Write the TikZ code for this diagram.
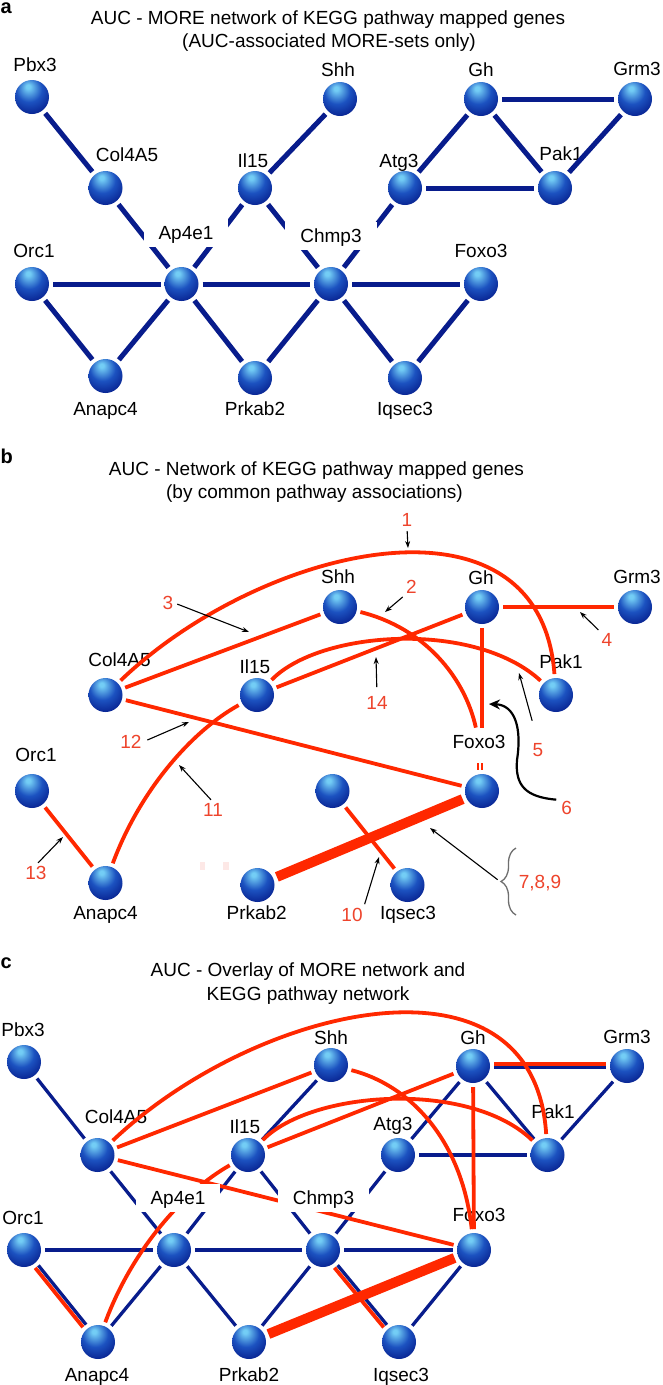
\documentclass[tikz,border=0pt]{standalone}
\usepackage{fontspec}
\setmainfont{Liberation Sans}
\usetikzlibrary{arrows.meta,decorations.pathreplacing}
\definecolor{bhl}{RGB}{115,205,245}
\definecolor{bmid}{RGB}{28,82,192}
\definecolor{bdk}{RGB}{6,30,140}
\definecolor{bdd}{RGB}{0,18,112}
\definecolor{edgeblue}{RGB}{8,28,140}
\definecolor{edgered}{RGB}{255,40,0}
\definecolor{numred}{RGB}{238,68,44}
\definecolor{bracegray}{RGB}{110,110,110}
\definecolor{faintpink}{RGB}{253,232,230}
\pgfdeclareradialshading{gball}{\pgfqpoint{-6bp}{16bp}}{color(0bp)=(bhl); color(3bp)=(bhl); color(19bp)=(bmid); color(36bp)=(bdk); color(52bp)=(bdd); color(70bp)=(bdd)}
\pgfdeclarelayer{bgl}
\pgfdeclarelayer{under}
\pgfdeclarelayer{edges}
\pgfsetlayers{bgl,under,edges,main}
\tikzset{
  ball/.style={circle, minimum size=34pt, inner sep=0pt, outer sep=4pt, shading=gball},
  lbl/.style={font=\fontsize{19}{23}\selectfont, text height=17pt, text depth=3.4pt, inner xsep=15pt, inner ysep=4pt},
  wlbl/.style={lbl, fill=white},
  num/.style={font=\fontsize{19}{23}\selectfont, text=numred, text height=13.6pt, text depth=0pt, inner sep=1pt},
  ttl/.style={font=\fontsize{19}{23}\selectfont, text height=13.6pt, text depth=0pt, inner sep=0pt},
  panel/.style={font=\fontsize{20}{24}\selectfont\bfseries, anchor=base west, inner sep=0pt},
  be/.style={draw=edgeblue, line width=5pt},
  bec/.style={draw=edgeblue, line width=3.3pt},
  re/.style={draw=edgered, line width=3.8pt},
  rthick/.style={draw=edgered, line width=10pt},
  ann/.style={draw=black, line width=1.1pt, -{Stealth[length=7pt,width=5pt]}, shorten <=3pt},
}
\begin{document}
\begin{tikzpicture}[x=1pt,y=-1pt]
\useasboundingbox (0,0) rectangle (662,1385);
\begin{pgfonlayer}{bgl}
\fill[white] (0,0) rectangle (662,1385);
\end{pgfonlayer}

%%%%%%%%%%%%%%%% Panel a
\node[panel] (pa) at (0.5,13.3) {a};
\node[ttl] (ta1) at (328,18) {AUC - MORE network of KEGG pathway mapped genes};
\node[ttl] (ta2) at (329,41) {(AUC-associated MORE-sets only)};

\node[ball] (aPbx) at (32,97) {};
\node[ball] (aShh) at (340,99) {};
\node[ball] (aGh) at (481,99) {};
\node[ball] (aGrm) at (635,99) {};
\node[ball] (aCol) at (105.5,188) {};
\node[ball] (aIl) at (255,188) {};
\node[ball] (aAtg) at (405,188) {};
\node[ball] (aPak) at (555,188) {};
\node[ball] (aOrc) at (32,284) {};
\node[ball] (aAp) at (181.5,284) {};
\node[ball] (aChm) at (331,284) {};
\node[ball] (aFox) at (481,284) {};
\node[ball] (aAna) at (105.5,376) {};
\node[ball] (aPrk) at (255,378) {};
\node[ball] (aIq) at (405,378) {};

\begin{pgfonlayer}{under}
\node[lbl] (aPbxL) at (35,65) {Pbx3};
\node[lbl] (aShhL) at (338,70) {Shh};
\node[lbl] (aGhL) at (481,70) {Gh};
\node[lbl] (aGrmL) at (637,69) {Grm3};
\node[lbl] (aColL) at (127,155) {Col4A5};
\node[lbl] (aIlL) at (253,161) {Il15};
\node[lbl] (aAtgL) at (399,161) {Atg3};
\node[lbl] (aPakL) at (561,154) {Pak1};
\node[lbl] (aOrcL) at (34,251) {Orc1};
\node[lbl] (aFoxL) at (481,251) {Foxo3};
\node[lbl] (aAnaL) at (105.5,409) {Anapc4};
\node[lbl] (aPrkL) at (255,409) {Prkab2};
\node[lbl] (aIqL) at (405,409) {Iqsec3};
\end{pgfonlayer}
\node[wlbl] (aApL) at (186,233) {Ap4e1};
\node[wlbl] (aChmL) at (331,236) {Chmp3};

\begin{pgfonlayer}{edges}
\foreach \u/\v in {Pbx/Col, Shh/Il, Gh/Grm, Gh/Atg, Gh/Pak, Grm/Pak, Atg/Pak, Col/Ap, Il/Ap, Il/Chm, Atg/Chm, Orc/Ap, Ap/Chm, Chm/Fox, Orc/Ana, Ana/Ap, Ap/Prk, Prk/Chm, Chm/Iq, Iq/Fox}
  \draw[be] (a\u) -- (a\v);
\end{pgfonlayer}

%%%%%%%%%%%%%%%% Panel b
\node[panel] (pb) at (0.5,463.3) {b};
\node[ttl] (tb1) at (316.5,468.3) {AUC - Network of KEGG pathway mapped genes};
\node[ttl] (tb2) at (314.5,491.7) {(by common pathway associations)};

\node[ball] (bShh) at (340,607) {};
\node[ball] (bGh) at (482,607) {};
\node[ball] (bGrm) at (635,607) {};
\node[ball] (bCol) at (105.5,695) {};
\node[ball] (bIl) at (257,695) {};
\node[ball] (bPak) at (556,695) {};
\node[ball] (bOrc) at (32,791) {};
\node[ball] (bChm) at (332.5,791) {};
\node[ball] (bFox) at (482,791) {};
\node[ball] (bAna) at (105.5,883) {};
\node[ball] (bPrk) at (257.5,885) {};
\node[ball] (bIq) at (407.5,885) {};

\begin{pgfonlayer}{under}
\node[lbl] (bShhL) at (338,577) {Shh};
\node[lbl] (bGhL) at (481,578) {Gh};
\node[lbl] (bGrmL) at (637,577) {Grm3};
\node[lbl] (bColL) at (119.5,660) {Col4A5};
\node[lbl] (bIlL) at (255,667) {Il15};
\node[lbl] (bPakL) at (561,662) {Pak1};
\node[lbl] (bFoxL) at (479,742) {Foxo3};
\node[lbl] (bOrcL) at (36,755) {Orc1};
\node[lbl] (bAnaL) at (105.5,913) {Anapc4};
\node[lbl] (bPrkL) at (256.7,913) {Prkab2};
\node[lbl] (bIqL) at (408,913) {Iqsec3};
\fill[faintpink] (199.5,862) rectangle (205,870);
\fill[faintpink] (223,862) rectangle (228.5,870);
\end{pgfonlayer}

\begin{pgfonlayer}{edges}
\draw[re] (bCol) .. controls (262,545) and (540,480) .. (bPak);
\draw[re] (bShh) .. controls (425,628) and (465,678) .. (bFoxL);
\draw[re] (bCol) -- (bShh);
\draw[re] (bGh) -- (bGrm);
\draw[re] (bIl) .. controls (320,630) and (475,620) .. (bPak);
\draw[re] (bGh) -- (bGh |- bFoxL.north);
\draw[rthick] (bPrk) -- (bFox);
\draw[re] (bChm) -- (bIq);
\draw[re] (bIl) .. controls (192,731) and (140,790) .. (bAna);
\draw[re] (bCol) -- (bFox);
\draw[re] (bOrc) -- (bAna);
\draw[re] (bIl) -- (bGh);
\fill[edgered] (476.5,762.5) rectangle (478.6,769.5);
\fill[edgered] (480.8,762.5) rectangle (482.9,769.5);
\end{pgfonlayer}

% number labels and pointers
\node[num] (n1) at (407,520) {1};
\node[num] (n2) at (411.5,587) {2};
\node[num] (n3) at (168,603) {3};
\node[num] (n4) at (607,640) {4};
\node[num] (n14) at (377,703) {14};
\node[num] (n12) at (131,742) {12};
\node[num] (n5) at (538,750) {5};
\node[num] (n11) at (213,810) {11};
\node[num] (n6) at (566.7,808) {6};
\node[num] (n13) at (36,873) {13};
\node[num] (n10) at (352,915) {10};
\node[num] (n789) at (540,882) {7,8,9};

\coordinate (t1) at (408,548);
\coordinate (t2) at (385,612);
\coordinate (t3) at (249,632);
\coordinate (t4) at (580,612);
\coordinate (t14) at (376,657);
\coordinate (t12) at (189,722);
\coordinate (t5) at (519,673);
\coordinate (t11) at (179,765);
\coordinate (t13) at (63,837);
\coordinate (t10) at (379,857);
\coordinate (t789) at (430,828);
\coordinate (t6) at (489,704);
\coordinate (braceTop) at (516,848);
\coordinate (braceBot) at (516,915);
\coordinate (braceTip) at (500,881.5);

\draw[ann] (n1.south) -- (t1);
\draw[ann] (n2.south west) -- (t2);
\draw[ann] (n3.east) -- (t3);
\draw[ann] (n4.north west) -- (t4);
\draw[ann, shorten <=8pt] (n14.north) -- (t14);
\draw[ann, shorten <=5pt] (n12.east) -- (t12);
\draw[ann, shorten <=22pt] (n5.north) -- (t5);
\draw[ann] (n11.north) -- (t11);
\draw[ann] (n13.north) -- (t13);
\draw[ann] (n10.north east) -- (t10);
\draw[ann] (braceTip) -- (t789);
\draw[bracegray, line width=1.3pt, decorate, decoration={brace, amplitude=15pt}] (braceBot) -- (braceTop);
\draw[line width=2.2pt, -{Stealth[length=11pt,width=10pt]}, shorten <=4pt]
  (n6.north west) .. controls (525,797) and (515,785) .. (517,760)
  .. controls (522,728) and (515,705) .. (t6);

%%%%%%%%%%%%%%%% Panel c
\node[panel] (pc) at (0.5,968.3) {c};
\node[ttl] (tc1) at (308,970) {AUC - Overlay of MORE network and};
\node[ttl] (tc2) at (308,993.3) {KEGG pathway network};

\node[ball] (cPbx) at (24,1062) {};
\node[ball] (cShh) at (331,1065) {};
\node[ball] (cGh) at (473,1066) {};
\node[ball] (cGrm) at (627,1066) {};
\node[ball] (cCol) at (97.5,1155) {};
\node[ball] (cIl) at (248,1155) {};
\node[ball] (cAtg) at (398,1155) {};
\node[ball] (cPak) at (547.5,1155) {};
\node[ball] (cOrc) at (24,1250) {};
\node[ball] (cAp) at (174,1250) {};
\node[ball] (cChm) at (323,1250) {};
\node[ball] (cFox) at (474,1250) {};
\node[ball] (cAna) at (98,1342) {};
\node[ball] (cPrk) at (249,1342) {};
\node[ball] (cIq) at (399,1342) {};

\begin{pgfonlayer}{under}
\node[lbl] (cPbxL) at (23,1030) {Pbx3};
\node[lbl] (cShhL) at (331,1038) {Shh};
\node[lbl] (cGhL) at (473,1038) {Gh};
\node[lbl] (cGrmL) at (627,1037) {Grm3};
\node[lbl] (cColL) at (116,1116.5) {Col4A5};
\node[lbl] (cIlL) at (245,1127) {Il15};
\node[lbl] (cAtgL) at (393,1124) {Atg3};
\node[lbl] (cPakL) at (553,1111.5) {Pak1};
\node[lbl] (cOrcL) at (23,1218) {Orc1};
\node[lbl] (cFoxL) at (479,1214.5) {Foxo3};
\node[lbl] (cAnaL) at (97,1375) {Anapc4};
\node[lbl] (cPrkL) at (249,1375) {Prkab2};
\node[lbl] (cIqL) at (401,1375) {Iqsec3};
\end{pgfonlayer}
\node[wlbl] (cApL) at (178,1198) {Ap4e1};
\node[wlbl] (cChmL) at (323.5,1198) {Chmp3};

\begin{pgfonlayer}{edges}
\foreach \u/\v in {Pbx/Col, Shh/Il, Gh/Atg, Gh/Pak, Grm/Pak, Atg/Pak, Col/Ap, Il/Ap, Il/Chm, Atg/Chm, Orc/Ap, Ap/Chm, Chm/Fox, Ana/Ap, Ap/Prk, Prk/Chm, Iq/Fox}
  \draw[bec] (c\u) -- (c\v);
\draw[bec, transform canvas={shift={(0,1.8)}}] (cGh) -- (cGrm);
\draw[bec, transform canvas={shift={(1.25,-1.0)}}] (cOrc) -- (cAna);
\draw[bec, transform canvas={shift={(1.25,-1.0)}}] (cChm) -- (cIq);
% KEGG (red) edges
\draw[re] (cCol) .. controls (256,1005) and (534,940) .. (cPak);
\draw[re] (cShh) .. controls (410,1085) and (462,1140) .. (cFox);
\draw[re] (cCol) -- (cShh);
\draw[re, transform canvas={shift={(0,-2.2)}}] (cGh) -- (cGrm);
\draw[re] (cIl) .. controls (312,1090) and (470,1080) .. (cPak);
\draw[re] (cGh) -- (cFox);
\draw[rthick] (cPrk) -- (cFox);
\draw[re, transform canvas={shift={(-1.9,1.5)}}] (cChm) -- (cIq);
\draw[re] (cIl) .. controls (184,1191) and (132,1250) .. (cAna);
\draw[re] (cCol) -- (cFox);
\draw[re, transform canvas={shift={(-1.9,1.5)}}] (cOrc) -- (cAna);
\draw[re] (cIl) -- (cGh);
\end{pgfonlayer}
\end{tikzpicture}
\end{document}
